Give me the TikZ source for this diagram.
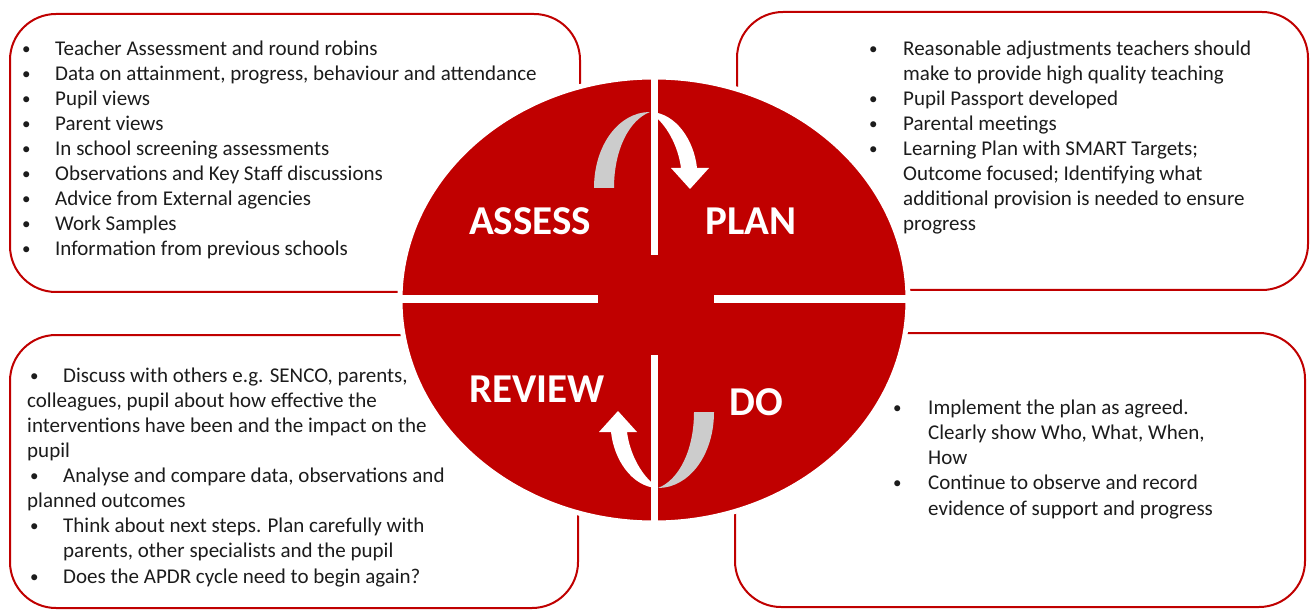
\documentclass[tikz,border=0pt]{standalone}
\usepackage{fontspec}
\setmainfont{Carlito}
\definecolor{apdr}{RGB}{192,0,0}
\definecolor{fold}{RGB}{204,204,204}
\definecolor{ink}{RGB}{28,28,28}
% small bullet set in a fixed-width slot, followed by the item text
\newcommand\bitem[2]{\makebox[#1][l]{\raisebox{1pt}{\fontsize{17}{17}\selectfont\textbullet}}#2}
\tikzset{
  infobox/.style={draw=apdr, line width=2pt, rounded corners=46pt},
  % multi-line notes: anchored on the baseline of their last line
  infotext/.style={anchor=base west, inner sep=0pt, align=left, text=ink,
    font=\fontsize{21}{25.1}\selectfont},
  stage/.style={text=white, inner sep=0pt, font=\fontsize{41}{45}\selectfont\bfseries},
  divider/.style={draw=white, line width=7pt},
  backfold/.style={fill=fold},
  frontfold/.style={fill=white},
}
\begin{document}
\begin{tikzpicture}[x=1pt, y=-1pt]
\useasboundingbox (0,0) rectangle (1314,612);
\fill[white] (0,0) rectangle (1314,612);

% the four rounded frames
\draw[infobox] (10,14) rectangle (580,292);
\draw[infobox] (737,12) rectangle (1308,290);
\draw[infobox] (10,335) rectangle (578,608);
\draw[infobox] (735,333) rectangle (1305,607);

% the cycle disc with its white rim
\fill[apdr, draw=white, line width=5pt] (654,300) ellipse [x radius=254, y radius=223];

% quadrant dividers
\draw[divider] (654,78) -- (654,255);
\draw[divider] (654,355) -- (654,524);
\draw[divider] (400,299) -- (598,299);
\draw[divider] (714,299) -- (908,299);

% curved arrow from ASSESS to PLAN, and the same turned round from DO to REVIEW
\foreach \ang in {0,180}{
  \begin{scope}[shift={(654,300)}, rotate=\ang]
    \fill[backfold] (-60,-112) .. controls (-60,-155) and (-35,-188) .. (-4,-188)
      .. controls (-25,-180) and (-40,-150) .. (-40,-112) -- cycle;
    \fill[frontfold] (-2,-188) .. controls (22,-186) and (40,-160) .. (43,-132)
      -- (55,-132) -- (36,-111) -- (17,-132) -- (27,-132)
      .. controls (24,-155) and (12,-176) .. (-2,-186) -- cycle;
  \end{scope}
}

% stage names
\node[stage] (assess) at (530,221) {ASSESS};
\node[stage] (plan) at (751,221) {PLAN};
\node[stage] (review) at (537,389) {REVIEW};
\node[stage] (do) at (756,402) {DO};

% ASSESS notes
\node[infotext] (assesstext) at (22,256) {%
\bitem{33pt}{Teacher Assessment and round robins}\\
\bitem{33pt}{Data on attainment, progress, behaviour and attendance}\\
\bitem{33pt}{Pupil views}\\
\bitem{33pt}{Parent views}\\
\bitem{33pt}{In school screening assessments}\\
\bitem{33pt}{Observations and Key Staff discussions}\\
\bitem{33pt}{Advice from External agencies}\\
\bitem{33pt}{Work Samples}\\
\bitem{33pt}{Information from previous schools}};

% PLAN notes
\node[infotext] (plantext) at (869,231) {%
\bitem{34pt}{Reasonable adjustments teachers should}\\
\hspace*{34pt}make to provide high quality teaching\\
\bitem{34pt}{Pupil Passport developed}\\
\bitem{34pt}{Parental meetings}\\
\bitem{34pt}{Learning Plan with SMART Targets;}\\
\hspace*{34pt}Outcome focused; Identifying what\\
\hspace*{34pt}additional provision is needed to ensure\\
\hspace*{34pt}progress};

% REVIEW notes
\node[infotext] (reviewtext) at (27,583) {%
\hspace*{3pt}\bitem{33pt}{Discuss with others e.g. SENCO, parents,}\\
colleagues, pupil about how effective the\\
interventions have been and the impact on the\\
pupil\\
\hspace*{3pt}\bitem{33pt}{Analyse and compare data, observations and}\\
planned outcomes\\
\hspace*{3pt}\bitem{33pt}{Think about next steps. Plan carefully with}\\
\hspace*{36pt}parents, other specialists and the pupil\\
\hspace*{3pt}\bitem{33pt}{Does the APDR cycle need to begin again?}};

% DO notes
\node[infotext] (dotext) at (893,515) {%
\bitem{35pt}{Implement the plan as agreed.}\\
\hspace*{35pt}Clearly show Who, What, When,\\
\hspace*{35pt}How\\
\bitem{35pt}{Continue to observe and record}\\
\hspace*{35pt}evidence of support and progress};
\end{tikzpicture}
\end{document}
